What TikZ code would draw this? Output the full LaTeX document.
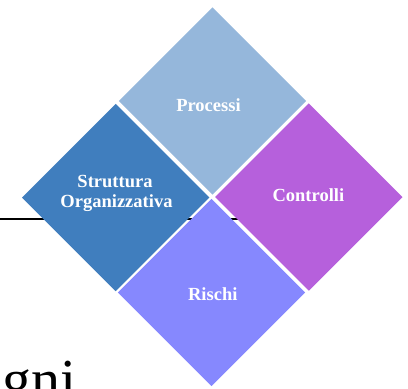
\documentclass[tikz,border=0pt]{standalone}
\usepackage{fontspec}
\setmainfont{Liberation Serif}
\usetikzlibrary{shapes.geometric}
\definecolor{cProc}{RGB}{149,183,219}
\definecolor{cOrg}{RGB}{64,126,190}
\definecolor{cCtrl}{RGB}{182,96,220}
\definecolor{cRisk}{RGB}{134,136,254}
\begin{document}
\begin{tikzpicture}[x=1pt,y=-1pt,
  tile/.style={shape=diamond,draw=none,inner sep=0pt,outer sep=0pt,
               minimum width=187.4pt,minimum height=187.4pt,aspect=1},
  lbl/.style={text=white,font=\bfseries\fontsize{18.5}{21}\selectfont,
              inner sep=0pt,anchor=base}]
\useasboundingbox (0,0) rectangle (408,389);
\clip (0,0) rectangle (408,389);

% rule running behind the tiles
\coordinate (ruleL) at (0,219.3);
\coordinate (ruleR) at (260,219.3);
\draw[line width=2pt] (ruleL) -- (ruleR);

% the four tiles of the matrix
\node[tile,fill=cProc] (proc) at (212.5,101)   {};
\node[tile,fill=cOrg]  (org)  at (115.7,197.5) {};
\node[tile,fill=cCtrl] (ctrl) at (308.8,197)   {};
\node[tile,fill=cRisk] (risk) at (211.5,292.5) {};

% labels
\node[lbl] (procT) at (208.5,111.7) {Processi};
\node[lbl] (orgT1) at (115,187)     {Struttura};
\node[lbl] (orgT2) at (116.5,207.7) {Organizzativa};
\node[lbl] (ctrlT) at (308.4,201)   {Controlli};
\node[lbl] (riskT) at (212.8,300)   {Rischi};

% body text below
\node[font=\fontsize{58}{60}\selectfont,inner sep=0pt,anchor=base west]
  (body) at (-27,399.3) {ogni};
\end{tikzpicture}
\end{document}
